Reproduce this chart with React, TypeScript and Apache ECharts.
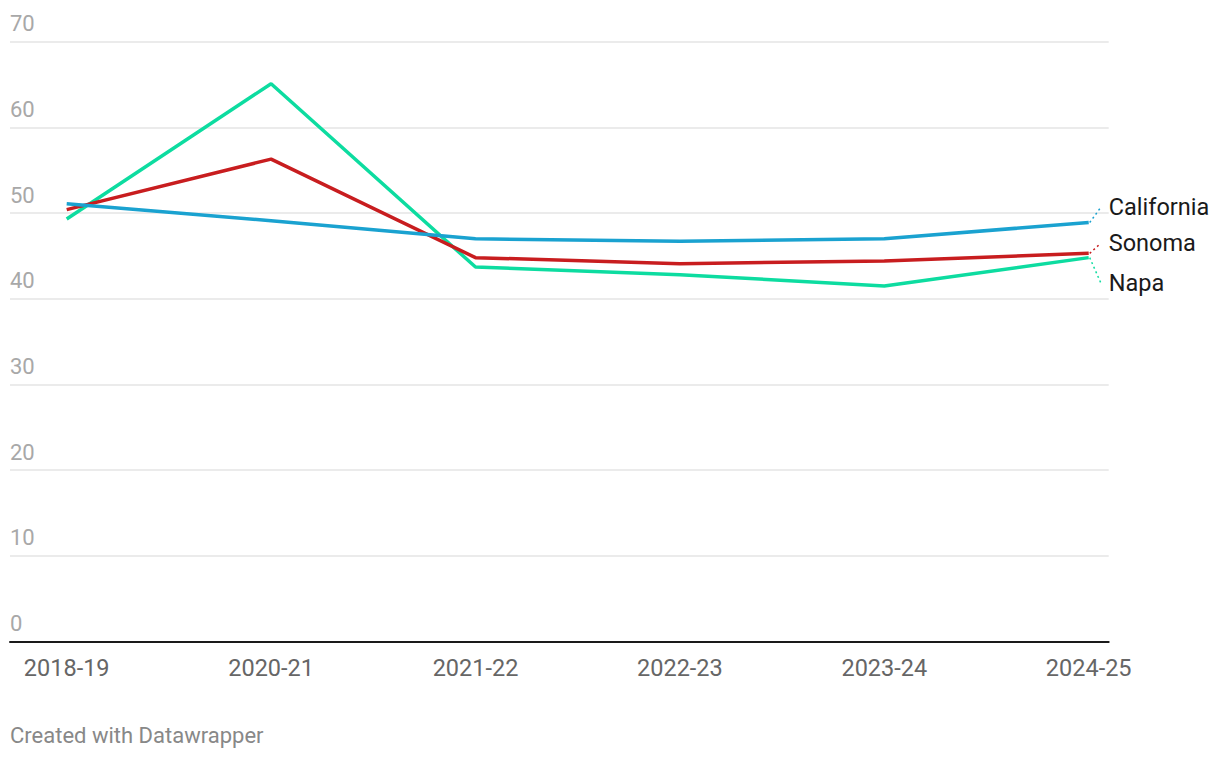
import React, { useEffect, useRef } from "react";
import * as echarts from "echarts";

const categories = ["2018-19", "2020-21", "2021-22", "2022-23", "2023-24", "2024-25"];
const seriesNames = ["California", "Sonoma", "Napa"];
const california = [51.1, 49.1, 47.0, 46.7, 47.0, 48.9];
const sonoma = [50.4, 56.3, 44.8, 44.1, 44.4, 45.3];
const napa = [49.3, 65.1, 43.7, 42.8, 41.5, 44.8];
const colors = ["#1aa2d0", "#c81d1f", "#0ddca0"];
const labelOffsets = [-15, -10, 25];
const yMin = 0;
const yMax = 70;
const yInterval = 10;

const FONT = "Roboto, 'Noto Sans', sans-serif";

export default function App() {
  const ref = useRef<HTMLDivElement>(null);
  useEffect(() => {
    if (!ref.current) return;
    const chart = echarts.init(ref.current, undefined, { renderer: "svg" });
    const values = [california, sonoma, napa];
    const top = 41.7;
    const bottom = 116.5;
    chart.setOption({
      animation: false,
      backgroundColor: "#ffffff",
      textStyle: { fontFamily: FONT },
      grid: [
        { left: 10, right: 111.3, top, bottom, containLabel: false },
        { left: 66.7, right: 131.3, top, bottom, containLabel: false },
      ],
      xAxis: [
        {
          gridIndex: 0,
          type: "value",
          min: 0,
          max: 1,
          axisLine: { show: true, onZero: false, lineStyle: { color: "#1a1a1a", width: 2 } },
          axisTick: { show: false },
          axisLabel: { show: false },
          splitLine: { show: false },
        },
        {
          gridIndex: 1,
          type: "category",
          boundaryGap: false,
          data: categories,
          axisLine: { show: false },
          axisTick: { show: false },
          splitLine: { show: false },
          axisLabel: {
            color: "#666666",
            fontSize: 23.5,
            fontFamily: FONT,
            margin: 14,
            interval: 0,
          },
        },
      ],
      yAxis: [
        {
          gridIndex: 0,
          type: "value",
          min: yMin,
          max: yMax,
          interval: yInterval,
          axisLine: { show: false },
          axisTick: { show: false },
          splitLine: { show: true, lineStyle: { color: "#e4e4e4", width: 1.5 } },
          axisLabel: {
            inside: true,
            margin: 0,
            align: "left",
            verticalAlign: "bottom",
            padding: [0, 0, 7, 0],
            color: "#a8a8a8",
            fontSize: 22,
            fontFamily: FONT,
          },
        },
        {
          gridIndex: 1,
          type: "value",
          min: yMin,
          max: yMax,
          interval: yInterval,
          show: false,
          splitLine: { show: false },
        },
      ],
      series: seriesNames.map((name, i) => ({
        name,
        type: "line",
        xAxisIndex: 1,
        yAxisIndex: 1,
        data: values[i],
        symbol: "none",
        lineStyle: { color: colors[i], width: 3.5 },
        z: 10 - i,
      })),
    });

    const last = categories.length - 1;
    const graphics: any[] = [];
    seriesNames.forEach((name, i) => {
      const p = chart.convertToPixel({ xAxisIndex: 1, yAxisIndex: 1 }, [last, values[i][last]]) as number[];
      const ly = p[1] + labelOffsets[i];
      graphics.push({
        type: "line",
        shape: { x1: p[0] + 1, y1: p[1], x2: p[0] + 12, y2: ly },
        style: { stroke: colors[i], lineWidth: 1.5, lineDash: [2, 3] },
        z: 20,
      });
      graphics.push({
        type: "text",
        x: p[0] + 20,
        y: ly,
        style: {
          text: name,
          fill: "#1a1a1a",
          font: `23.5px ${FONT}`,
          textAlign: "left",
          textVerticalAlign: "middle",
        },
        z: 20,
      });
    });
    graphics.push({
      type: "text",
      x: 10,
      y: 735,
      style: {
        text: "Created with Datawrapper",
        fill: "#888888",
        font: `22px ${FONT}`,
        textAlign: "left",
        textVerticalAlign: "middle",
      },
    });
    chart.setOption({ graphic: graphics });

    return () => chart.dispose();
  }, []);

  return (
    <div
      ref={ref}
      style={{ position: "fixed", left: 0, top: 0, width: 1220, height: 758, background: "#fff" }}
    />
  );
}
